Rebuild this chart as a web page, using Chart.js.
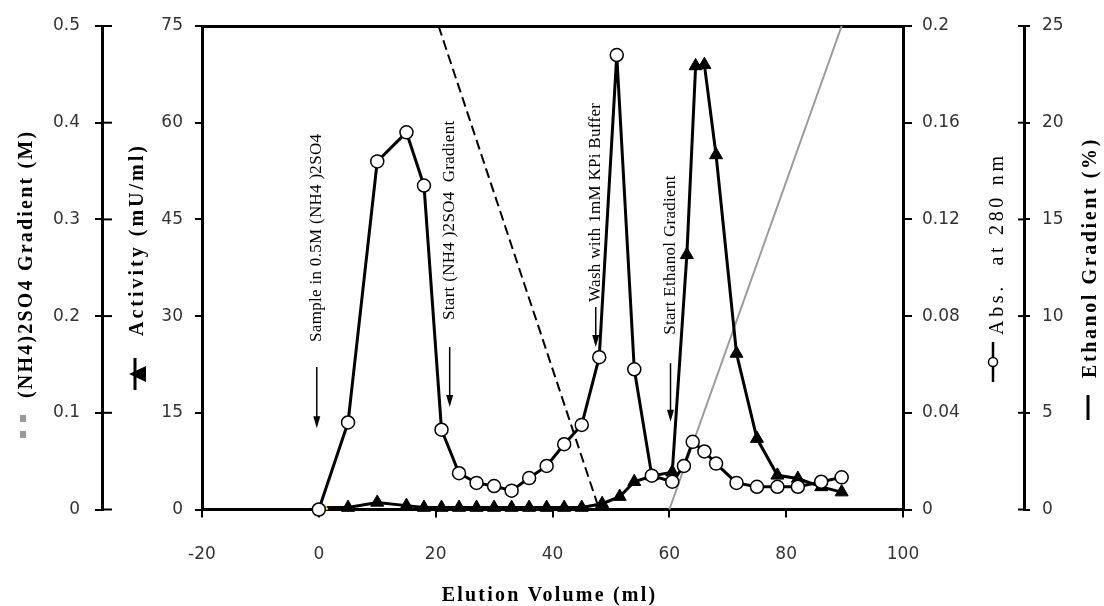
<!DOCTYPE html>
<html>
<head>
<meta charset="utf-8">
<title>Elution profile</title>
<script src="https://cdn.jsdelivr.net/npm/chart.js@4.4.1/dist/chart.umd.min.js"></script>
<style>
  html, body { margin: 0; padding: 0; background: #ffffff; }
  #chart { display: block; }
</style>
</head>
<body>
<canvas id="chart" width="1104" height="606"></canvas>
<script>
// =====================================
// DATA
// =====================================

// Abs. at 280 nm (open circles)
const absVolume = [0, 5, 10, 15, 18, 21, 24, 27, 30, 33, 36, 39, 42, 45, 48, 51, 54, 57, 60.5, 62.5, 64, 66, 68, 71.5, 75, 78.5, 82, 86, 89.5];
const absValues = [0, 0.036, 0.144, 0.156, 0.134, 0.033, 0.015, 0.011, 0.0097, 0.0078, 0.013, 0.018, 0.027, 0.035, 0.063, 0.188, 0.058, 0.014, 0.0115, 0.018, 0.028, 0.024, 0.019, 0.011, 0.0094, 0.0094, 0.0094, 0.0115, 0.0133];

// Activity (mU/ml) (filled triangles)
const activityVolume = [1, 5, 10, 15, 18, 21, 24, 27, 30, 33, 36, 39, 42, 45, 48.5, 51.5, 54, 57, 60.5, 63, 64.5, 66, 68, 71.5, 75, 78.5, 82, 86, 89.5];
const activityValues = [0.3, 0.3, 1.1, 0.6, 0.3, 0.3, 0.3, 0.3, 0.3, 0.3, 0.3, 0.3, 0.3, 0.3, 0.9, 2.0, 4.3, 5.2, 5.8, 39.5, 68.8, 69.0, 55.0, 24.2, 11.0, 5.3, 4.8, 3.5, 2.7];

// (NH4)2SO4 gradient (M), dashed
const saltVolume = [20.5, 48];
const saltValues = [0.5, 0];

// Ethanol gradient (%), grey
const ethanolVolume = [60, 89.5];
const ethanolValues = [0, 25];

// tick labels
const volumeTicks = ["-20", "0", "20", "40", "60", "80", "100"];
const activityTicks = ["0", "15", "30", "45", "60", "75"];
const saltTicks = ["0", "0.1", "0.2", "0.3", "0.4", "0.5"];
const absTicks = ["0", "0.04", "0.08", "0.12", "0.16", "0.2"];
const ethanolTicks = ["0", "5", "10", "15", "20", "25"];

// vertical notes with arrows (volume in ml, heights in activity units)
const notes = [
    { text: "Sample in 0.5M (NH4 )2SO4", volume: -0.35, textFrom: 26.0, arrowFrom: 22.1, arrowTo: 12.6 },
    { text: "Start (NH4 )2SO4  Gradient", volume: 22.4, textFrom: 29.4, arrowFrom: 25.2, arrowTo: 15.9 },
    { text: "Wash with 1mM KPi Buffer", volume: 47.4, textFrom: 32.2, arrowFrom: 31.4, arrowTo: 25.2 },
    { text: "Start Ethanol Gradient", volume: 60.2, textFrom: 27.1, arrowFrom: 22.7, arrowTo: 13.6 }
];

// =====================================
// HELPERS
// =====================================

const toPoints = (xs, ys) => xs.map((x, i) => ({ x: x, y: ys[i] }));

const tickFont = { family: "DejaVu Sans", size: 17 };
const serif = "'Liberation Serif', 'Times New Roman', serif";

function yAxis(position, min, max, step, labels, tickLength, padding, width) {
    return {
        type: "linear",
        position: position,
        min: min,
        max: max,
        ticks: {
            stepSize: step,
            callback: (value, index) => labels[index],
            color: "#333333",
            font: tickFont,
            padding: padding
        },
        grid: {
            drawOnChartArea: false,
            drawTicks: true,
            tickLength: tickLength,
            color: "#000000",
            lineWidth: 2
        },
        border: { color: "#000000", width: 3 },
        afterFit: (scale) => { scale.width = width; }
    };
}

function verticalText(ctx, text, x, y, font, spacing, color) {
    ctx.save();
    ctx.translate(x, y);
    ctx.rotate(-Math.PI / 2);
    ctx.font = font;
    ctx.letterSpacing = spacing + "px";
    ctx.fillStyle = color;
    ctx.textAlign = "left";
    ctx.textBaseline = "middle";
    ctx.fillText(text, 0, 0);
    ctx.letterSpacing = "0px";
    ctx.restore();
}

// =====================================
// DECORATIONS: crossing ticks, titles, notes
// =====================================

const decorations = {
    id: "decorations",
    afterDraw(chart) {
        const ctx = chart.ctx;
        const s = chart.scales;
        const top = chart.chartArea.top;

        // inner half of the crossing ticks on the outer axes
        ctx.save();
        ctx.strokeStyle = "#000000";
        ctx.lineWidth = 2;
        s.yN.ticks.forEach((t, i) => {
            const py = s.yN.getPixelForTick(i);
            ctx.beginPath();
            ctx.moveTo(s.yN.right, py);
            ctx.lineTo(s.yN.right + 10, py);
            ctx.stroke();
        });
        s.yE.ticks.forEach((t, i) => {
            const py = s.yE.getPixelForTick(i);
            ctx.beginPath();
            ctx.moveTo(s.yE.left - 6, py);
            ctx.lineTo(s.yE.left, py);
            ctx.stroke();
        });
        ctx.restore();

        const boldTitle = "bold 20px " + serif;

        // (NH4)2SO4 axis title with grey dash key
        verticalText(ctx, "(NH4)2SO4 Gradient (M)", s.yN.left + 27, top + 372, boldTitle, 2.2, "#000000");
        ctx.fillStyle = "#999999";
        ctx.fillRect(s.yN.left + 20, top + 389, 6, 7);
        ctx.fillRect(s.yN.left + 20, top + 405, 6, 7);

        // Activity axis title with triangle key
        verticalText(ctx, "Activity (mU/ml)", s.yA.left + 36, top + 310, boldTitle, 3, "#000000");
        ctx.save();
        ctx.strokeStyle = "#000000";
        ctx.lineWidth = 3;
        ctx.beginPath();
        ctx.moveTo(s.yA.left + 33, top + 332);
        ctx.lineTo(s.yA.left + 33, top + 364);
        ctx.stroke();
        ctx.fillStyle = "#000000";
        ctx.beginPath();
        ctx.moveTo(s.yA.left + 27, top + 348);
        ctx.lineTo(s.yA.left + 44, top + 340);
        ctx.lineTo(s.yA.left + 44, top + 356);
        ctx.closePath();
        ctx.fill();
        ctx.restore();

        // Abs axis title with circle key
        verticalText(ctx, "Abs.  at 280 nm", s.yAbs.left + 95, top + 309, "20px " + serif, 3.7, "#000000");
        ctx.save();
        ctx.strokeStyle = "#000000";
        ctx.lineWidth = 2.5;
        ctx.beginPath();
        ctx.moveTo(s.yAbs.left + 90, top + 316);
        ctx.lineTo(s.yAbs.left + 90, top + 356);
        ctx.stroke();
        ctx.fillStyle = "#ffffff";
        ctx.lineWidth = 1.5;
        ctx.beginPath();
        ctx.arc(s.yAbs.left + 90, top + 336, 4.5, 0, Math.PI * 2);
        ctx.fill();
        ctx.stroke();
        ctx.restore();

        // Ethanol axis title with line key
        verticalText(ctx, "Ethanol Gradient (%)", s.yE.left + 67, top + 352, boldTitle, 2.6, "#000000");
        ctx.save();
        ctx.strokeStyle = "#000000";
        ctx.lineWidth = 3;
        ctx.beginPath();
        ctx.moveTo(s.yE.left + 64, top + 369);
        ctx.lineTo(s.yE.left + 64, top + 394);
        ctx.stroke();
        ctx.restore();

        // x axis title
        ctx.save();
        ctx.font = boldTitle;
        ctx.letterSpacing = "2.2px";
        ctx.fillStyle = "#000000";
        ctx.textAlign = "center";
        ctx.textBaseline = "middle";
        ctx.fillText("Elution Volume (ml)", (s.x.left + s.x.right) / 2 - 3, s.x.top + 86);
        ctx.letterSpacing = "0px";
        ctx.restore();

        // notes with downward arrows
        notes.forEach((n) => {
            const px = s.x.getPixelForValue(n.volume);
            verticalText(ctx, n.text, px, s.yA.getPixelForValue(n.textFrom), "17px " + serif, 0.3, "#000000");

            const y1 = s.yA.getPixelForValue(n.arrowFrom);
            const y2 = s.yA.getPixelForValue(n.arrowTo);
            ctx.save();
            ctx.strokeStyle = "#000000";
            ctx.fillStyle = "#000000";
            ctx.lineWidth = 1.5;
            ctx.beginPath();
            ctx.moveTo(px, y1);
            ctx.lineTo(px, y2 - 8);
            ctx.stroke();
            ctx.beginPath();
            ctx.moveTo(px, y2);
            ctx.lineTo(px - 3.5, y2 - 12);
            ctx.lineTo(px + 3.5, y2 - 12);
            ctx.closePath();
            ctx.fill();
            ctx.restore();
        });
    }
};

// =====================================
// CHART
// =====================================

window.onload = function () {

    const ctx = document.getElementById("chart");

    new Chart(ctx, {

        type: "line",

        data: {
            datasets: [
                {
                    label: "Abs. at 280 nm",
                    data: toPoints(absVolume, absValues),
                    xAxisID: "x",
                    yAxisID: "yAbs",
                    borderColor: "#000000",
                    borderWidth: 3,
                    pointStyle: "circle",
                    pointRadius: 6.5,
                    pointBackgroundColor: "#ffffff",
                    pointBorderColor: "#000000",
                    pointBorderWidth: 1.5,
                    clip: false,
                    order: 0
                },
                {
                    label: "Activity",
                    data: toPoints(activityVolume, activityValues),
                    xAxisID: "x",
                    yAxisID: "yA",
                    borderColor: "#000000",
                    borderWidth: 3,
                    pointStyle: "triangle",
                    pointRadius: activityVolume.map((v, i) => (i === 0 ? 3.5 : 7.5)),
                    pointBackgroundColor: activityVolume.map((v, i) => (i === 0 ? "#ffff00" : "#000000")),
                    pointBorderColor: activityVolume.map((v, i) => (i === 0 ? "#ffff00" : "#000000")),
                    pointBorderWidth: 1,
                    clip: false,
                    order: 1
                },
                {
                    label: "(NH4)2SO4 Gradient",
                    data: toPoints(saltVolume, saltValues),
                    xAxisID: "x",
                    yAxisID: "yN",
                    borderColor: "#000000",
                    borderWidth: 2,
                    borderDash: [10, 5],
                    pointRadius: 0,
                    clip: false,
                    order: 2
                },
                {
                    label: "Ethanol Gradient",
                    data: toPoints(ethanolVolume, ethanolValues),
                    xAxisID: "x",
                    yAxisID: "yE",
                    borderColor: "#9a9a9a",
                    borderWidth: 2,
                    pointRadius: 0,
                    clip: false,
                    order: 3
                }
            ]
        },

        options: {
            responsive: false,
            animation: false,
            layout: { padding: { top: 26, left: 0, right: 0, bottom: 0 } },
            plugins: {
                legend: { display: false },
                tooltip: { enabled: false }
            },
            scales: {
                x: {
                    type: "linear",
                    position: "bottom",
                    min: -20,
                    max: 100,
                    ticks: {
                        stepSize: 20,
                        callback: (value, index) => volumeTicks[index],
                        color: "#333333",
                        font: tickFont,
                        padding: 27,
                        maxRotation: 0,
                        autoSkip: false
                    },
                    grid: {
                        drawOnChartArea: false,
                        drawTicks: true,
                        tickLength: 8,
                        color: "#000000",
                        lineWidth: 2
                    },
                    border: { color: "#000000", width: 3 },
                    afterFit: (scale) => { scale.height = 96.5; }
                },
                xTop: {
                    type: "linear",
                    position: "top",
                    min: -20,
                    max: 100,
                    ticks: { display: false },
                    grid: { display: false },
                    border: { color: "#000000", width: 3 },
                    afterFit: (scale) => { scale.height = 0; }
                },
                yA: yAxis("left", 0, 75, 15, activityTicks, 7, 12, 100),
                yN: yAxis("left", 0, 0.5, 0.1, saltTicks, 7, 15, 102),
                yAbs: yAxis("right", 0, 0.2, 0.04, absTicks, 9, 10, 121),
                yE: yAxis("right", 0, 25, 5, ethanolTicks, 6, 12, 80)
            }
        },

        plugins: [decorations]
    });
};
</script>
</body>
</html>
